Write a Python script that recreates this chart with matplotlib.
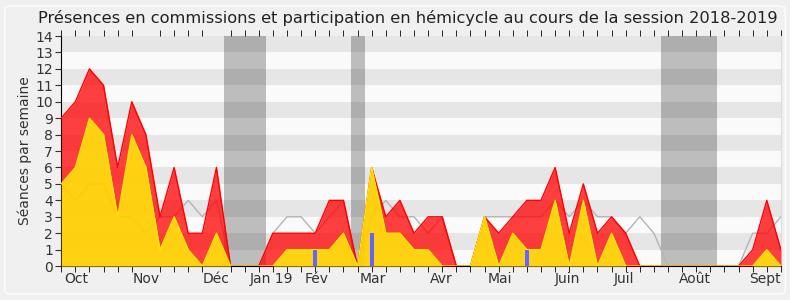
import matplotlib
matplotlib.use("Agg")
import matplotlib.pyplot as plt
from matplotlib.patches import FancyBboxPatch
import numpy as np

# weekly values, session 2018-2019 (52 weeks)
presences = [9, 10, 12, 11, 6, 10, 8, 3, 6, 2, 2, 6, 0, 0, 0, 2, 2, 2, 2, 4,
             4, 0, 6, 3, 4, 2, 3, 3, 0, 0, 3, 2, 3, 4, 4, 6, 2, 5, 2, 3,
             2, 0, 0, 0, 0, 0, 0, 0, 0, 1, 4, 1]
participation = [5, 6, 9, 8, 3, 8, 6, 1, 3, 1, 0, 2, 0, 0, 0, 0, 1, 1, 1, 1,
                 2, 0, 6, 2, 2, 1, 1, 0, 0, 0, 3, 0, 2, 1, 1, 4, 0, 4, 0, 2,
                 0, 0, 0, 0, 0, 0, 0, 0, 0, 0, 1, 0]
mediane = [5, 4, 5, 5, 3, 3, 2, 3, 3, 4, 3, 4, 0, 0, 0, 2, 3, 3, 2, 3,
           4, 0, 3, 4, 3, 3, 2, 3, 0, 0, 3, 3, 3, 3, 3, 4, 3, 4, 3, 3,
           2, 3, 2, 0, 0, 0, 0, 0, 0, 2, 2, 3]
questions_weeks = [18, 22, 33]
questions = [1, 2, 1]
vacances = [(11.5, 14.5), (20.5, 21.5), (42.5, 46.5)]

mois = ["Oct", "Nov", "Déc", "Jan 19", "Fév", "Mar", "Avr", "Mai", "Juin",
        "Juil", "Août", "Sept"]
mois_pos = [1.1, 6.0, 11.0, 14.9, 18.1, 22.1, 26.9, 31.1, 35.9, 39.9, 44.9, 49.9]

weeks = np.arange(len(presences))

fig = plt.figure(figsize=(7.9, 3.0), dpi=100, facecolor="#f0f0f0")
fig.patches.append(FancyBboxPatch((0.006, 0.02), 0.988, 0.96, boxstyle="round,pad=0,rounding_size=0.01",
                                  transform=fig.transFigure, facecolor="none",
                                  edgecolor="#fbfbfb", lw=1.2))
ax = fig.add_axes([0.0775, 0.113, 0.911, 0.767])

# alternating stripes
for k in range(14):
    ax.axhspan(k, k + 1, color="#e6e6e6" if k % 2 == 1 else "#fafafa", lw=0, zorder=0)
for a, b in vacances:
    ax.axvspan(a, b, color="black", alpha=0.245, lw=0, zorder=1)

# median line under the areas
ax.plot(weeks, mediane, color="#b4b4b4", lw=1, zorder=2)
ax.fill_between(weeks, participation, presences, color="#ff0000", alpha=0.75, lw=0, zorder=3)
ax.plot(weeks, presences, color="#ff0000", lw=1, zorder=4)
ax.fill_between(weeks, 0, participation, color="#ffcf00", alpha=0.93, lw=0, zorder=5)
ax.plot(weeks, participation, color="#ffe600", lw=1, zorder=6)
ax.bar(questions_weeks, questions, width=0.28, color="#6464ff", zorder=7)

ax.set_xlim(0, 51)
ax.set_ylim(0, 14)
ax.set_yticks(range(15))
ax.tick_params(axis="y", labelsize=10, length=4, pad=2, colors="#333333")
ax.set_xticks(weeks, minor=True)
ax.set_xticks(mois_pos)
ax.set_xticklabels(mois, fontsize=10, color="#333333")
ax.tick_params(axis="x", which="major", length=0, pad=4)
ax.tick_params(axis="x", which="minor", length=4, top=True, bottom=True, direction="out")
ax.set_ylabel("Séances par semaine", fontsize=10, color="#333333", labelpad=2)
ax.spines["right"].set_color("#dddddd")
ax.spines["top"].set_visible(False)
ax.set_title("Présences en commissions et participation en hémicycle au cours de la session 2018-2019",
             fontsize=11.7, color="#222222", pad=9, x=0.481)

fig.savefig("out.png", dpi=100, facecolor=fig.get_facecolor())
